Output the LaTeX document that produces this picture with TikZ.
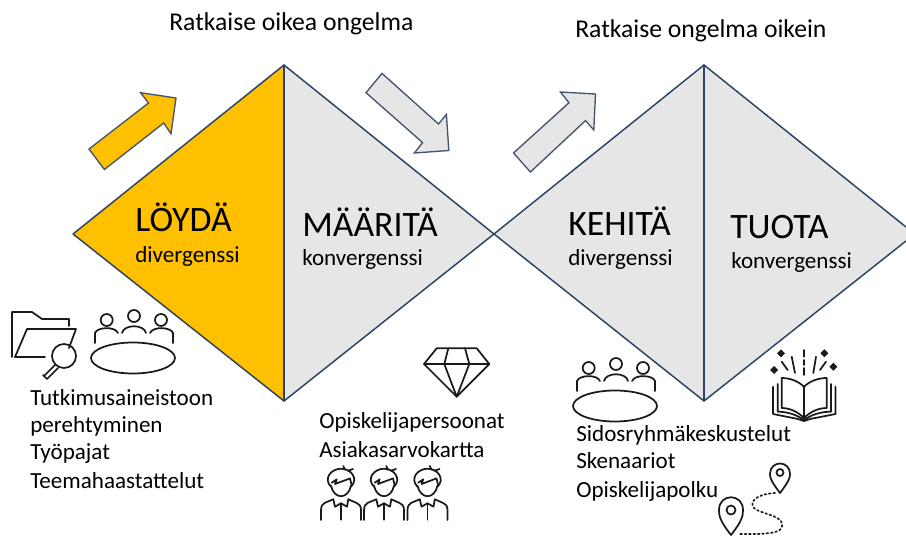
\documentclass[tikz,border=0pt]{standalone}
\usepackage{fontspec}
\setmainfont{Carlito}
\usepackage{tikz}
\usetikzlibrary{positioning}
\definecolor{findyellow}{HTML}{FFC000}
\definecolor{phasegray}{HTML}{E7E6E6}
\definecolor{edgeblue}{HTML}{2C4364}
\definecolor{arrowblue}{HTML}{44546A}
\definecolor{iconblack}{HTML}{1A1A1A}
\tikzset{
  phase/.style={draw=edgeblue,line width=1.1pt,line join=round},
  bigarrow/.style={draw=arrowblue,line width=1pt,line join=miter},
  icon/.style={draw=iconblack,line width=1.3pt,line cap=round,line join=round},
  heading/.style={anchor=base west,inner sep=0pt,font=\fontsize{19.25}{22}\selectfont},
  phasename/.style={anchor=base west,inner sep=0pt,font=\fontsize{26.8}{30}\selectfont},
  phasemode/.style={anchor=base west,inner sep=0pt,font=\fontsize{17.3}{20}\selectfont},
  method/.style={anchor=base west,inner sep=0pt,font=\fontsize{17.3}{20}\selectfont}
}

\begin{document}
\begin{tikzpicture}[x=0.75pt,y=-0.75pt]
  \useasboundingbox (0,0) rectangle (906,536);

  % Diamonds
  \draw[phase,fill=findyellow] (284,65) -- (73,234) -- (284,401) -- cycle;
  \draw[phase,fill=phasegray] (284,65) -- (494,234) -- (284,401) -- cycle;
  \draw[phase,fill=phasegray] (704,65) -- (494,234) -- (704,401) -- cycle;
  \fill[phasegray] (704,65) -- (906,227) -- (906,241) -- (704,401) -- cycle;
  \draw[phase] (906,227) -- (704,65) -- (704,401) -- (906,241);
  \draw[phase,line width=1.6pt] (284,65) -- (284,401);
  \draw[phase,line width=1.6pt] (704,65) -- (704,401);

  % Arrows
  \draw[bigarrow,fill=findyellow] (89,149) -- (148.5,103) -- (140.6,92.7) -- (176,98) -- (171,133.7) -- (163.7,123) -- (104.4,169.5) -- cycle;
  \draw[bigarrow,fill=phasegray] (382,73.4) -- (438.5,124) -- (446.4,114.4) -- (448.8,150.5) -- (414.4,153) -- (422.6,142.6) -- (366,92.7) -- cycle;
  \draw[bigarrow,fill=phasegray] (513.5,153) -- (569,102.7) -- (560.4,92) -- (595.5,94) -- (593.8,130) -- (585.5,120.6) -- (530.4,172) -- cycle;

  % Headings
  \node[heading] (solve_right) at (169,30) {Ratkaise oikea ongelma};
  \node[heading] (solve_well) at (575,37) {Ratkaise ongelma oikein};

  % Phases
  \node[phasename] (find) at (135,231) {LÖYDÄ};
  \node[phasemode] (find_mode) at (135,262) {divergenssi};
  \node[phasename] (define) at (302,236) {MÄÄRITÄ};
  \node[phasemode] (define_mode) at (302,265) {konvergenssi};
  \node[phasename] (develop) at (568,235) {KEHITÄ};
  \node[phasemode] (develop_mode) at (568,265) {divergenssi};
  \node[phasename] (deliver) at (730,238) {TUOTA};
  \node[phasemode] (deliver_mode) at (731,268) {konvergenssi};

  % Methods
  \node[method] (research) at (30,405) {Tutkimusaineistoon};
  \node[method] (research2) at (30,432) {perehtyminen};
  \node[method] (workshops) at (30,459) {Työpajat};
  \node[method] (interviews) at (30,488) {Teemahaastattelut};
  \node[method] (personas) at (319,428) {Opiskelijapersoonat};
  \node[method] (valuemap) at (319,457) {Asiakasarvokartta};
  \node[method] (talks) at (576,441) {Sidosryhmäkeskustelut};
  \node[method] (scenarios) at (576,468) {Skenaariot};
  \node[method] (journey) at (576,497) {Opiskelijapolku};

  % Folder
  \draw[icon] (12,357) -- (12,312) -- (32,312) -- (42,319) -- (69,319) -- (69,326);
  \draw[icon] (15,357) -- (27,329) -- (76,329) -- (69,348);
  \draw[icon] (15,357) -- (45,357);
  \draw[icon] (64,356) circle (12);
  \draw[icon] (55,365) -- (44,376);
  \draw[icon] (58,368) -- (47,379) -- (43,375);

  % Meeting tables
  \foreach \dx/\dy in {0/0,482/48} {
    \begin{scope}[shift={(\dx,\dy)}]
      \draw[icon] (133,358) ellipse [x radius=42,y radius=15.5];
      \foreach \hx/\hy in {106.7/320,134/316,161/320}
        \draw[icon] (\hx,\hy) circle (6);
      \draw[icon] (95,343) -- (95,333) .. controls (97,327) and (115,326) .. (118,333);
      \draw[icon] (122,333) .. controls (124,324) and (144,324) .. (146,333);
      \draw[icon] (150,333) .. controls (153,326) and (171,327) .. (173,333) -- (173,343);
    \end{scope}
  }

  % Gem
  \draw[icon] (424,364) -- (436.7,348.3) -- (476.7,348.3) -- (489.3,364) -- (456.7,396.7) -- cycle;
  \draw[icon] (424,364) -- (489.3,364);
  \draw[icon] (448.3,348.3) -- (444.3,364) -- (456.7,396.7) -- (469.3,364) -- (465,348.3);

  % Students
  \foreach \px in {341,384,427.5} {
    \begin{scope}[shift={(\px,481.7)}]
      \draw[icon] (-10,4) .. controls (-7,18) and (7,18) .. (10,4);
      \draw[icon] (-10,5) .. controls (-18,-3) and (-10,-13) .. (0,-13) .. controls (10,-13) and (18,-3) .. (10,5);
      \draw[icon] (-9.3,1) -- (-4.3,-2.3) -- (-6,2.3) -- (9,-3.3) -- (10.5,3);
      \draw[icon] (2.3,-15.7) -- (4,-12);
      \draw[icon] (7,-11) -- (12,-12.7);
      \draw[icon] (-20,38.3) -- (-20,28.3) .. controls (-20,24) and (-18,22) .. (-16,21) -- (-7.7,17.6);
      \draw[icon] (-7.7,17.6) -- (-6,25) -- (0,21.6) -- (6,25) -- (7.3,17.6);
      \draw[icon] (7.3,17.6) -- (15,21) .. controls (18,22) and (20,24) .. (20,28.3) -- (20,38.3);
      \draw[icon] (0,21.6) -- (0,38);
    \end{scope}
  }

  % Book
  \draw[icon] (804,386.7) -- (804,418);
  \draw[icon] (804,386.7) .. controls (798,381) and (790,378) .. (781.7,378) -- (781.7,408) .. controls (790,408) and (798,412) .. (804,418);
  \draw[icon] (804,386.7) .. controls (810,381) and (818,378) .. (826.7,378) -- (826.7,408) .. controls (818,408) and (810,412) .. (804,418);
  \draw[icon] (777.7,384) -- (777.7,411.7) .. controls (788,411.7) and (797,415) .. (804,420) .. controls (811,415) and (820,411.7) .. (831,411.7) -- (831,384);
  \draw[icon] (773,386.7) -- (773,414) -- (798,419) -- (804,421) -- (810,419) -- (835.5,414) -- (835.5,386.7);
  \foreach \ya/\yb in {350/356.7,360/365,368/375}
    \draw[icon] (804,\ya) -- (804,\yb);
  \draw[icon] (791.7,356.7) -- (795,373);
  \draw[icon] (781.7,361.7) -- (787.7,370);
  \draw[icon] (816,356.7) -- (813.3,373);
  \draw[icon] (826,361.7) -- (820,370);
  \foreach \sx/\sy in {781/353.3,774/370,824.3/353.3,833.3/366.7}
    \fill[iconblack] (\sx-4,\sy) -- (\sx,\sy-4) -- (\sx+4,\sy) -- (\sx,\sy+4) -- cycle;

  % Map pins
  \draw[icon] (780,493) .. controls (771,481) and (770,478) .. (770,474) .. controls (770,460) and (790,460) .. (790,474) .. controls (790,478) and (789,481) .. (780,493) -- cycle;
  \draw[icon] (780,472.5) circle (3.5);
  \draw[icon] (731,535) .. controls (720,521) and (719,516) .. (719,510) .. controls (719,493) and (743,493) .. (743,510) .. controls (743,516) and (742,521) .. (731,535) -- cycle;
  \draw[icon] (731,510) circle (4.5);
  \draw[icon,dotted,line width=1.3pt] (775,493) .. controls (755,494) and (748,503) .. (755,509) .. controls (765,515) and (785,516) .. (782,527) .. controls (780,535) and (755,534) .. (738,534);
\end{tikzpicture}
\end{document}
